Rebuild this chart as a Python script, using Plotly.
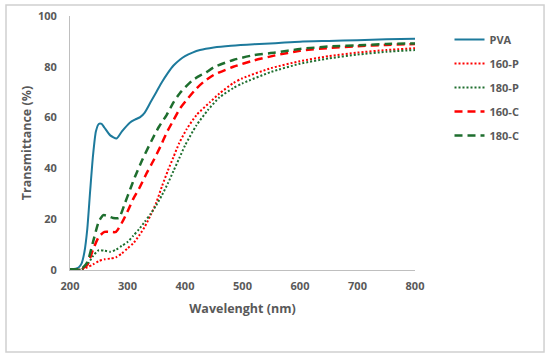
import plotly.graph_objects as go

# ---- data ----
pva_x = [200, 210, 215, 220, 225, 230, 235, 240, 245, 250, 255, 260, 270, 281, 290, 304, 313, 322, 330, 340, 350, 360, 370, 380, 391, 400, 413, 426, 450, 480, 520, 557, 600, 650, 700, 750, 800]
pva_y = [0.3, 0.5, 1, 2.5, 7, 16, 31, 45, 54.5, 57.5, 57.5, 56, 53, 51.8, 54.5, 58, 59.2, 60.2, 62, 66, 70, 74, 77.5, 80.5, 82.8, 84.2, 85.6, 86.6, 87.6, 88.3, 88.9, 89.3, 89.9, 90.2, 90.5, 90.8, 91]

p160_x = [200, 220, 230, 240, 250, 260, 270, 280, 290, 300, 310, 320, 330, 340, 350, 360, 370, 380, 390, 403, 420, 443, 460, 484, 500, 550, 600, 650, 700, 750, 800]
p160_y = [0, 0.2, 1, 2.2, 3.5, 4.2, 4.5, 5, 6.5, 8.5, 10.5, 13.5, 17, 21.5, 26.5, 33, 39, 44.5, 50, 55.5, 61, 66, 69.5, 73.6, 75.5, 79.5, 82.2, 84.2, 85.6, 86.6, 87.3]

p180_x = [200, 220, 230, 240, 250, 260, 270, 280, 290, 300, 310, 320, 330, 340, 350, 360, 370, 380, 390, 400, 420, 440, 460, 484, 500, 550, 600, 650, 700, 750, 800]
p180_y = [0, 0.3, 2, 5.5, 7.8, 7.6, 7.2, 8, 9.5, 11, 13.5, 16, 19, 22, 25.5, 29.5, 34, 39, 44, 49, 57, 63, 68, 71.6, 73.5, 78, 81.2, 83.3, 84.8, 85.9, 86.6]

c160_x = [200, 220, 230, 240, 250, 260, 270, 280, 290, 300, 310, 320, 333, 345, 357, 368, 380, 391, 403, 420, 432, 450, 484, 520, 557, 600, 650, 700, 750, 800]
c160_y = [0.2, 0.4, 2, 8, 13, 15, 15, 15, 18.5, 23, 28, 32, 38, 43, 48.5, 54, 59, 63.5, 67, 71.5, 74, 76.8, 80, 82.5, 84.5, 86.3, 87.4, 88.1, 88.6, 89]

c180_x = [200, 220, 230, 240, 250, 258, 265, 275, 285, 295, 305, 313, 325, 342, 355, 368, 380, 391, 412, 426, 435, 450, 484, 520, 557, 600, 650, 713, 750, 800]
c180_y = [0.3, 0.5, 3, 11, 19, 21.6, 21.3, 20.5, 20.5, 26, 32, 36.7, 43, 51, 56.5, 61, 66, 69.6, 74.5, 76.5, 77.5, 79.8, 82.7, 84.6, 85.6, 87, 88, 88.6, 89, 89.2]

x_ticks = [200, 300, 400, 500, 600, 700, 800]
y_ticks = [0, 20, 40, 60, 80, 100]

BLUE = "#1D7A9C"
RED = "#FF0000"
GREEN = "#1E6E2E"

fig = go.Figure()
series = [
    ("PVA", pva_x, pva_y, BLUE, "solid", 2),
    ("160-P", p160_x, p160_y, RED, "2px,2px", 2),
    ("180-P", p180_x, p180_y, GREEN, "2px,2px", 2),
    ("160-C", c160_x, c160_y, RED, "8px,5px", 2.5),
    ("180-C", c180_x, c180_y, GREEN, "8px,5px", 2.5),
]
for name, xs, ys, col, dash, w in series:
    fig.add_trace(go.Scatter(
        x=xs, y=ys, name=name, mode="lines", legendgroup=name,
        line=dict(color=col, dash=dash, width=w, shape="spline", smoothing=0.6),
    ))

font_family = "Open Sans, Liberation Sans, Arial"
fig.update_layout(
    width=550, height=357,
    margin=dict(l=70, r=135, t=16, b=87, autoexpand=False),
    paper_bgcolor="white", plot_bgcolor="white",
    font=dict(family=font_family, color="#595959"),
    showlegend=True,
    legend=dict(
        x=1.1, y=0.965, xanchor="left", yanchor="top",
        font=dict(size=11, color="#595959", family=font_family, weight="bold"),
        tracegroupgap=5, bgcolor="rgba(0,0,0,0)",
    ),
    xaxis=dict(
        range=[200, 800], tickvals=x_ticks, ticktext=[str(v) for v in x_ticks],
        showgrid=False, zeroline=False, showline=True, linecolor="#BFBFBF", linewidth=1,
        ticks="outside", tickcolor="rgba(0,0,0,0)", ticklen=6, automargin=False,
        tickfont=dict(size=11, color="#595959", weight="bold"),
        title=dict(text="Wavelenght (nm)", font=dict(size=12.5, color="#595959", weight="bold"), standoff=12),
    ),
    yaxis=dict(
        range=[0, 100], tickvals=y_ticks, ticktext=[str(v) for v in y_ticks],
        showgrid=False, zeroline=False, showline=True, linecolor="#BFBFBF", linewidth=1,
        ticks="outside", tickcolor="rgba(0,0,0,0)", ticklen=10, automargin=False,
        tickfont=dict(size=11, color="#595959", weight="bold"),
        title=dict(text="Transmittance (%)", font=dict(size=12.5, color="#595959", weight="bold"), standoff=3),
    ),
    shapes=[dict(
        type="rect", xref="paper", yref="paper",
        x0=-0.1855, x1=1.374, y0=-0.323, y1=1.043,
        line=dict(color="#D0D0D0", width=1.5), fillcolor="rgba(0,0,0,0)", layer="above",
    )],
)

fig.write_html(
    "out.html",
    config={"displayModeBar": False},
    post_script="document.body.style.margin='0';document.body.style.overflow='hidden';",
)
